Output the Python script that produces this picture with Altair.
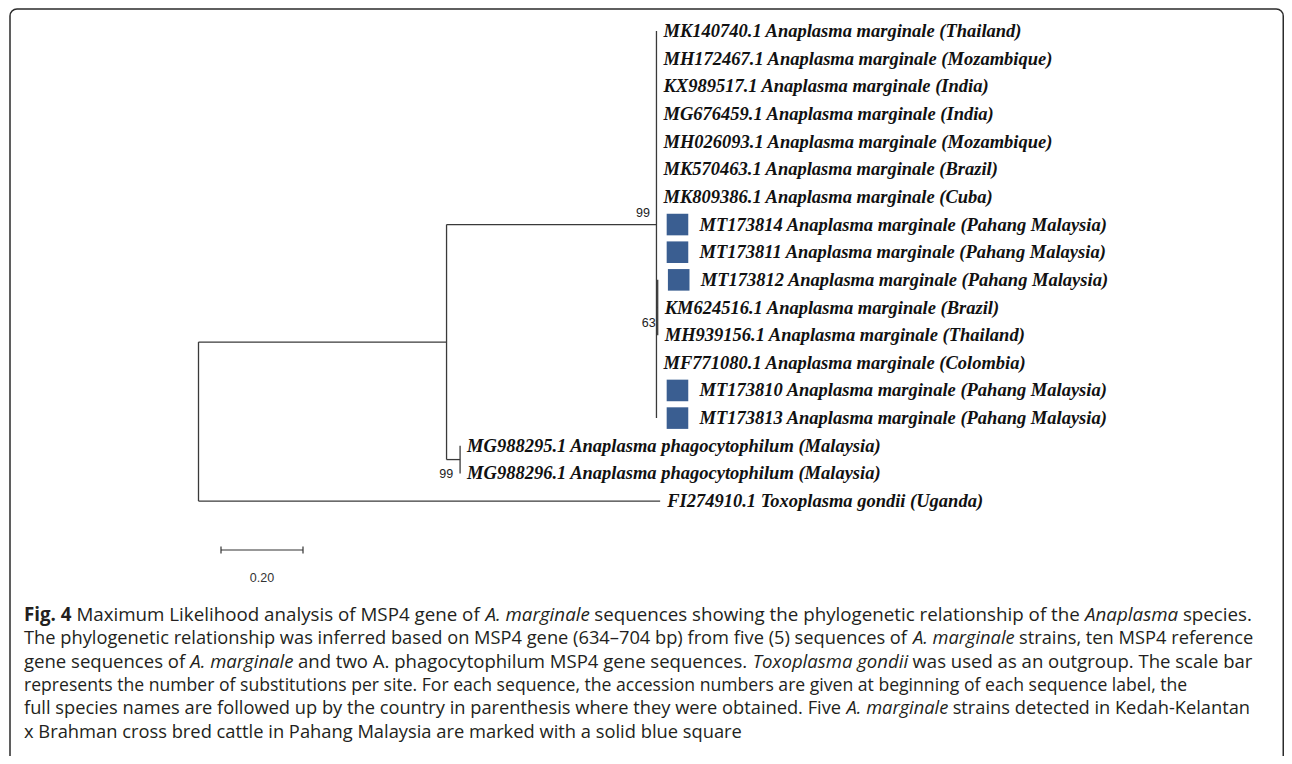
import os
import glob
import struct
import altair as alt
import pandas as pd

# ---------------- data ----------------
LEAF_IDS = ["MK140740.1", "MH172467.1", "KX989517.1", "MG676459.1", "MH026093.1",
            "MK570463.1", "MK809386.1", "MT173814", "MT173811", "MT173812",
            "KM624516.1", "MH939156.1", "MF771080.1", "MT173810", "MT173813",
            "MG988295.1", "MG988296.1", "FI274910.1"]
LEAF_SPECIES = ["Anaplasma marginale"] * 15 + ["Anaplasma phagocytophilum"] * 2 + ["Toxoplasma gondii"]
LEAF_COUNTRY = ["Thailand", "Mozambique", "India", "India", "Mozambique", "Brazil", "Cuba",
                "Pahang Malaysia", "Pahang Malaysia", "Pahang Malaysia", "Brazil", "Thailand",
                "Colombia", "Pahang Malaysia", "Pahang Malaysia", "Malaysia", "Malaysia", "Uganda"]
LEAF_PARENT = ["N2"] * 9 + ["N3"] * 3 + ["N2"] * 3 + ["N4"] * 2 + ["root"]
LEAF_BRANCH = [0.0] * 17 + [1.126]

NODE_NAMES = ["N1", "N2", "N3", "N4"]
NODE_PARENT = ["root", "N1", "N2", "N1"]
NODE_BRANCH = [0.605, 0.512, 0.003, 0.033]
NODE_SUPPORT = [None, 99, 63, 99]

SCALE_BAR_LENGTH = 0.20
SCALE_BAR_LABEL = "0.20"

CAPTION_LINES = [
    [("Fig. 4", "bold"), (" Maximum Likelihood analysis of MSP4 gene of ", "normal"),
     ("A. marginale", "italic"), (" sequences showing the phylogenetic relationship of the ", "normal"),
     ("Anaplasma", "italic"), (" species.", "normal")],
    [("The phylogenetic relationship was inferred based on MSP4 gene (634\u2013704 bp) from five (5) sequences of ", "normal"),
     ("A. marginale", "italic"), (" strains, ten MSP4 reference", "normal")],
    [("gene sequences of ", "normal"), ("A. marginale", "italic"),
     (" and two A. phagocytophilum MSP4 gene sequences. ", "normal"), ("Toxoplasma gondii", "italic"),
     (" was used as an outgroup. The scale bar", "normal")],
    [("represents the number of substitutions per site. For each sequence, the accession numbers are given at beginning of each sequence label, the", "normal")],
    [("full species names are followed up by the country in parenthesis where they were obtained. Five ", "normal"),
     ("A. marginale", "italic"), (" strains detected in Kedah-Kelantan", "normal")],
    [("x Brahman cross bred cattle in Pahang Malaysia are marked with a solid blue square", "normal")],
]

# ---------------- layout ----------------
W, H = 1276, 748
PX_PER_UNIT = 410.0
ROOT_PX = 190.5
ROW_PX = 27.65
ROW0_PX = 23.0

LABEL_DX = 7
MARK_DX = 21
MARK_LABEL_DX = 43
SUPPORT_OFFSETS = {"N2": (-6.5, -12), "N3": (-2, 15.5), "N4": (-7, 14)}
SCALE_BAR_X0_PX = 213
SCALE_BAR_Y_PX = 542
SCALE_LABEL_Y_PX = 570

CAPTION_X = 16
CAPTION_LINE_ENDS = [1244, 1245, 1245, 1180, 1242, 735]
CAPTION_Y0 = 607
CAPTION_DY = 23.6

LABEL_FONT = "Liberation Serif"
LABEL_SIZE = 18.5


def px_to_x(px):
    return (px - ROOT_PX) / PX_PER_UNIT


def py_to_y(py):
    return (py - ROW0_PX) / ROW_PX


XS = alt.Scale(domain=[px_to_x(0), px_to_x(W)], range=[0, W], nice=False, zero=False)
YS = alt.Scale(domain=[py_to_y(0), py_to_y(H)], range=[0, H], nice=False, zero=False)


# ---------------- font metrics for caption layout ----------------
def load_width(path):
    try:
        with open(path, "rb") as f:
            d = f.read()
        off0 = struct.unpack(">I", d[12:16])[0] if d[:4] == b"ttcf" else 0
        num = struct.unpack(">H", d[off0 + 4:off0 + 6])[0]
        tabs = {}
        for i in range(num):
            rec = off0 + 12 + 16 * i
            tag = d[rec:rec + 4].decode("latin-1")
            off = struct.unpack(">I", d[rec + 8:rec + 12])[0]
            tabs[tag] = off
        upem = struct.unpack(">H", d[tabs["head"] + 18:tabs["head"] + 20])[0]
        nhm = struct.unpack(">H", d[tabs["hhea"] + 34:tabs["hhea"] + 36])[0]
        hm = tabs["hmtx"]
        adv = [struct.unpack(">H", d[hm + 4 * i:hm + 4 * i + 2])[0] for i in range(nhm)]
        cm = tabs["cmap"]
        n = struct.unpack(">H", d[cm + 2:cm + 4])[0]
        sub = None
        for i in range(n):
            pid, eid, so = struct.unpack(">HHI", d[cm + 4 + 8 * i:cm + 12 + 8 * i])
            fmt = struct.unpack(">H", d[cm + so:cm + so + 2])[0]
            if fmt == 4 and (pid == 0 or (pid == 3 and eid == 1)):
                sub = cm + so
                if pid == 3:
                    break
        segx2 = struct.unpack(">H", d[sub + 6:sub + 8])[0]
        ns = segx2 // 2
        ends = struct.unpack(">%dH" % ns, d[sub + 14:sub + 14 + segx2])
        starts = struct.unpack(">%dH" % ns, d[sub + 16 + segx2:sub + 16 + 2 * segx2])
        deltas = struct.unpack(">%dh" % ns, d[sub + 16 + 2 * segx2:sub + 16 + 3 * segx2])
        rpos = sub + 16 + 3 * segx2
        ros = struct.unpack(">%dH" % ns, d[rpos:rpos + segx2])

        def gid(c):
            for i in range(ns):
                if ends[i] >= c:
                    if starts[i] > c:
                        return 0
                    if ros[i] == 0:
                        return (c + deltas[i]) & 0xFFFF
                    a = rpos + 2 * i + ros[i] + 2 * (c - starts[i])
                    g = struct.unpack(">H", d[a:a + 2])[0]
                    return (g + deltas[i]) & 0xFFFF if g else 0
            return 0

        def width(s):
            return sum(adv[min(gid(ord(ch)), nhm - 1)] for ch in s) / upem

        width("Ab c")
        return width
    except Exception:
        return None


FONT_FILES = {}
for base in ["/usr/share/fonts", "/usr/local/share/fonts",
             os.path.expanduser("~/.fonts"), os.path.expanduser("~/.local/share/fonts")]:
    for p in glob.glob(os.path.join(base, "**", "*.*"), recursive=True):
        FONT_FILES.setdefault(os.path.basename(p), p)

CANDIDATES = [
    ("Open Sans", "OpenSans-Regular.ttf", "OpenSans-Italic.ttf", "OpenSans-Bold.ttf"),
    ("Noto Sans", "NotoSans-Regular.ttf", "NotoSans-Italic.ttf", "NotoSans-Bold.ttf"),
    ("Lato", "Lato-Regular.ttf", "Lato-Italic.ttf", "Lato-Bold.ttf"),
    ("Liberation Sans", "LiberationSans-Regular.ttf", "LiberationSans-Italic.ttf", "LiberationSans-Bold.ttf"),
]
CAPTION_FONT = "Open Sans"
MEASURE = None
for fam, r, i, b in CANDIDATES:
    if r in FONT_FILES and i in FONT_FILES and b in FONT_FILES:
        wr, wi, wb = load_width(FONT_FILES[r]), load_width(FONT_FILES[i]), load_width(FONT_FILES[b])
        if wr and wi and wb:
            CAPTION_FONT = fam
            MEASURE = {"normal": wr, "italic": wi, "bold": wb}
            break
if MEASURE is None:
    MEASURE = {"normal": lambda s: 0.52 * len(s), "italic": lambda s: 0.50 * len(s),
               "bold": lambda s: 0.56 * len(s)}


def line_width(segs, fs):
    return sum(MEASURE[st](t) * fs for t, st in segs)


cap_rows = []
for li, segs in enumerate(CAPTION_LINES):
    fs = (CAPTION_LINE_ENDS[li] - CAPTION_X) / line_width(segs, 1.0)
    fs = max(13.0, min(20.0, fs))
    cur = CAPTION_X
    for t, st in segs:
        lead = len(t) - len(t.lstrip(" "))
        start = cur + MEASURE[st](" " * lead) * fs
        cap_rows.append({"cx": px_to_x(start), "cy": py_to_y(CAPTION_Y0 + li * CAPTION_DY),
                         "t": t.strip(" "), "style": st, "fs": fs})
        cur += MEASURE[st](t) * fs
cap_df = pd.DataFrame(cap_rows)

# ---------------- tree geometry from the topology ----------------
node_x = {"root": 0.0}
for n, p, b in zip(NODE_NAMES, NODE_PARENT, NODE_BRANCH):
    node_x[n] = node_x[p] + b
leaf_x = [node_x[p] + b for p, b in zip(LEAF_PARENT, LEAF_BRANCH)]


def child_ys(n):
    return [i for i, p in enumerate(LEAF_PARENT) if p == n] + \
        [node_y(c) for c, p in zip(NODE_NAMES, NODE_PARENT) if p == n]


def node_y(n):
    ys = child_ys(n)
    return (min(ys) + max(ys)) / 2.0


segs = []
for i, (p, x) in enumerate(zip(LEAF_PARENT, leaf_x)):
    if x > node_x[p]:
        segs.append((node_x[p], x, i, i))
for n, p in zip(NODE_NAMES, NODE_PARENT):
    y = node_y(n)
    segs.append((node_x[p], node_x[n], y, y))
for n in ["root"] + NODE_NAMES:
    ys = child_ys(n)
    segs.append((node_x[n], node_x[n], min(ys), max(ys)))
seg_df = pd.DataFrame(segs, columns=["x", "x2", "y", "y2"])

leaf_df = pd.DataFrame({
    "y": list(range(len(LEAF_IDS))),
    "label": [f"{a} {s} ({c})" for a, s, c in zip(LEAF_IDS, LEAF_SPECIES, LEAF_COUNTRY)],
    "marked": [c == "Pahang Malaysia" for c in LEAF_COUNTRY],
    "lx": [x + ((MARK_LABEL_DX if c == "Pahang Malaysia" else LABEL_DX) / PX_PER_UNIT)
           for x, c in zip(leaf_x, LEAF_COUNTRY)],
    "sx": [x + MARK_DX / PX_PER_UNIT for x in leaf_x],
})

sup_rows = []
for n, s in zip(NODE_NAMES, NODE_SUPPORT):
    if s is None:
        continue
    ox, oy = SUPPORT_OFFSETS[n]
    sup_rows.append({"x": node_x[n] + ox / PX_PER_UNIT, "y": node_y(n) + oy / ROW_PX, "t": str(s)})
sup_df = pd.DataFrame(sup_rows)

sb_x0 = px_to_x(SCALE_BAR_X0_PX)
sb_y = py_to_y(SCALE_BAR_Y_PX)
tick = 3.5 / ROW_PX
bar_df = pd.DataFrame([
    {"x": sb_x0, "x2": sb_x0 + SCALE_BAR_LENGTH, "y": sb_y, "y2": sb_y},
    {"x": sb_x0, "x2": sb_x0, "y": sb_y - tick, "y2": sb_y + tick},
    {"x": sb_x0 + SCALE_BAR_LENGTH, "x2": sb_x0 + SCALE_BAR_LENGTH, "y": sb_y - tick, "y2": sb_y + tick},
])
bar_lab_df = pd.DataFrame([{"x": sb_x0 + SCALE_BAR_LENGTH / 2, "y": py_to_y(SCALE_LABEL_Y_PX), "t": SCALE_BAR_LABEL}])

# ---------------- layers ----------------
frame = alt.Chart(pd.DataFrame({"a": [0]})).mark_rect(
    fillOpacity=0, stroke="#2b2b2b", strokeWidth=1.5, cornerRadius=7
).encode(x=alt.value(2), x2=alt.value(W - 0.75), y=alt.value(1), y2=alt.value(756))

tree = alt.Chart(seg_df).mark_rule(color="#3a3a3a", strokeWidth=1.3).encode(
    x=alt.X("x:Q", scale=XS, axis=None), x2="x2:Q",
    y=alt.Y("y:Q", scale=YS, axis=None), y2="y2:Q")

squares = alt.Chart(leaf_df).transform_filter("datum.marked").mark_square(
    size=466, color="#3a5e91", opacity=1, strokeWidth=0
).encode(x=alt.X("sx:Q", scale=XS, axis=None), y=alt.Y("y:Q", scale=YS, axis=None))

labels = alt.Chart(leaf_df).mark_text(
    align="left", baseline="middle", font=LABEL_FONT, fontSize=LABEL_SIZE,
    fontWeight="bold", fontStyle="italic", color="#111111"
).encode(x=alt.X("lx:Q", scale=XS, axis=None), y=alt.Y("y:Q", scale=YS, axis=None), text="label:N")

support = alt.Chart(sup_df).mark_text(
    align="right", baseline="middle", font="Liberation Sans", fontSize=12.5, color="#222222"
).encode(x=alt.X("x:Q", scale=XS, axis=None), y=alt.Y("y:Q", scale=YS, axis=None), text="t:N")

bar = alt.Chart(bar_df).mark_rule(color="#333333", strokeWidth=1.2).encode(
    x=alt.X("x:Q", scale=XS, axis=None), x2="x2:Q",
    y=alt.Y("y:Q", scale=YS, axis=None), y2="y2:Q")

bar_label = alt.Chart(bar_lab_df).mark_text(
    align="center", baseline="middle", font="Liberation Sans", fontSize=12.5, color="#333333"
).encode(x=alt.X("x:Q", scale=XS, axis=None), y=alt.Y("y:Q", scale=YS, axis=None), text="t:N")


def caption_layer(style):
    kw = {"fontStyle": "italic"} if style == "italic" else {}
    if style == "bold":
        kw["fontWeight"] = "bold"
    return alt.Chart(cap_df).transform_filter(alt.datum.style == style).mark_text(
        align="left", baseline="middle", font=CAPTION_FONT, color="#231f20", **kw
    ).encode(x=alt.X("cx:Q", scale=XS, axis=None), y=alt.Y("cy:Q", scale=YS, axis=None),
             size=alt.Size("fs:Q", scale=None, legend=None), text="t:N")


chart = alt.layer(
    frame, tree, squares, labels, support, bar, bar_label,
    caption_layer("normal"), caption_layer("italic"), caption_layer("bold")
).properties(
    width=W, height=H, autosize=alt.AutoSizeParams(type="none"), padding=0, background="white"
).configure_view(stroke=None)

chart.save("out.html", embed_options={"renderer": "svg", "actions": False})
